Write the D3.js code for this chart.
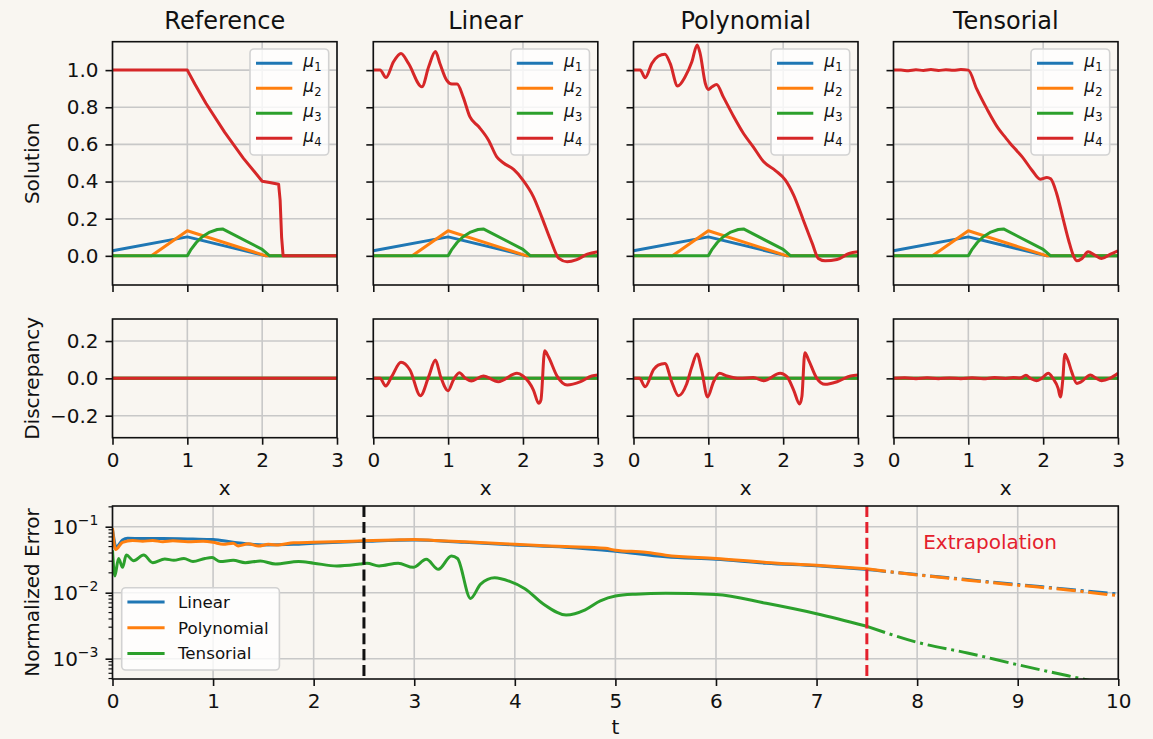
<!DOCTYPE html>
<html>
<head>
<meta charset="utf-8">
<script src="https://cdn.jsdelivr.net/npm/d3@7"></script>
<style>
  body { margin: 0; background: #f9f6f1; }
  text { font-family: "DejaVu Sans", sans-serif; fill: #111; }
</style>
</head>
<body>
<script>
// ---- data ----
var panelTitles = ["Reference", "Linear", "Polynomial", "Tensorial"];
var xTicks = [0, 1, 2, 3];
var solTicks = [0, 0.2, 0.4, 0.6, 0.8, 1.0];
var discTicks = [-0.2, 0, 0.2];
var tTicks = [0, 1, 2, 3, 4, 5, 6, 7, 8, 9, 10];
var errTicks = [1e-1, 1e-2, 1e-3];
var errTickExp = ["\u22121", "\u22122", "\u22123"];
var methodNames = ["Linear", "Polynomial", "Tensorial"];

// mu1..mu3 look the same in all four panels
var mu1 = [[0, 0.027], [1, 0.102], [2.05, 0], [3, 0]];
var mu2 = [[0, 0], [0.52, 0], [1, 0.135], [2.05, 0], [3, 0]];
var mu3 = [[0, 0], [1, 0], [1.05, 0.035], [1.12, 0.072], [1.2, 0.103], [1.3, 0.128], [1.4, 0.142],
           [1.47, 0.145], [2.0, 0.035], [2.1, 0], [3, 0]];

var refMu4 = [[0, 1], [1, 1], [1.1, 0.925], [1.25, 0.82], [1.5, 0.665], [1.75, 0.525], [2.0, 0.402],
              [2.1, 0.395], [2.22, 0.385], [2.24, 0.3], [2.26, 0.1], [2.28, 0], [3, 0]];
var linMu4 = [[0, 1.0], [0.09, 1.0], [0.17, 0.96], [0.27, 1.045], [0.37, 1.09], [0.47, 1.036], [0.65, 0.91],
              [0.74, 1.018], [0.83, 1.10], [0.89, 1.036], [0.98, 0.946], [1.05, 0.925], [1.12, 0.925],
              [1.2, 0.856], [1.29, 0.749], [1.41, 0.695], [1.54, 0.623], [1.65, 0.533], [1.74, 0.5],
              [1.875, 0.465], [2.0, 0.408], [2.14, 0.318], [2.25, 0.21], [2.37, 0.084], [2.48, -0.014],
              [2.59, -0.032], [2.72, -0.02], [2.86, 0.009], [3.0, 0.022]];
var polyMu4 = [[0, 1.0], [0.09, 1.0], [0.156, 0.959], [0.245, 1.036], [0.33, 1.075], [0.42, 1.086], [0.49, 1.036],
               [0.59, 0.914], [0.69, 0.964], [0.78, 1.045], [0.85, 1.135], [0.89, 1.09], [0.96, 0.928],
               [1.0, 0.896], [1.05, 0.91], [1.11, 0.923], [1.2, 0.856], [1.34, 0.749], [1.47, 0.659],
               [1.6, 0.587], [1.74, 0.506], [1.9, 0.458], [2.03, 0.408], [2.14, 0.327], [2.27, 0.192],
               [2.39, 0.066], [2.47, -0.014], [2.56, -0.027], [2.72, -0.02], [2.88, 0.0126], [3.0, 0.0215]];
var tensMu4 = [[0, 1.0], [0.1, 1.0], [0.2, 0.997], [0.3, 1.002], [0.4, 0.998], [0.5, 1.003], [0.6, 0.998],
               [0.7, 1.002], [0.8, 0.999], [0.9, 1.003], [1.0, 1.0], [1.11, 0.9], [1.25, 0.79], [1.4, 0.686],
               [1.5, 0.635], [1.56, 0.605], [1.65, 0.565], [1.72, 0.533], [1.85, 0.461], [1.96, 0.413],
               [2.05, 0.422], [2.1, 0.415], [2.18, 0.336], [2.26, 0.21], [2.34, 0.084], [2.41, -0.005],
               [2.45, -0.027], [2.52, -0.014], [2.6, 0.0215], [2.69, 0.0036], [2.78, -0.014], [2.9, 0.009],
               [3.0, 0.027]];

var zeroDisc = [[0, 0], [3, 0]];
var linDisc = [[0, 0], [0.09, 0], [0.165, -0.041], [0.245, 0.009], [0.37, 0.086], [0.49, 0.045], [0.63, -0.093],
               [0.74, 0.009], [0.83, 0.098], [0.9, 0.009], [1.0, -0.066], [1.07, -0.009], [1.15, 0.03],
               [1.23, 0], [1.31, -0.014], [1.47, 0.0125], [1.67, -0.018], [1.92, 0.027], [2.0, 0.0125],
               [2.14, -0.0625], [2.21, -0.134], [2.24, -0.116], [2.29, 0.148], [2.34, 0.116], [2.46, 0.009],
               [2.59, -0.036], [2.77, -0.018], [2.92, 0.0125], [3.0, 0.018]];
var polyDisc = [[0, 0], [0.08, 0], [0.156, -0.045], [0.27, 0.048], [0.33, 0.071], [0.42, 0.08], [0.51, -0.018],
                [0.6, -0.093], [0.71, -0.03], [0.78, 0.0625], [0.85, 0.13], [0.91, 0.045], [0.99, -0.1],
                [1.07, -0.018], [1.15, 0.027], [1.25, 0.0125], [1.42, 0], [1.6, 0.004], [1.74, -0.0125],
                [1.96, 0.027], [2.05, 0.009], [2.14, -0.0625], [2.22, -0.1375], [2.25, -0.098], [2.29, 0.1375],
                [2.34, 0.098], [2.45, 0], [2.56, -0.032], [2.72, -0.018], [2.9, 0.0125], [3.0, 0.018]];
var tensDisc = [[0, 0], [0.15, 0.003], [0.3, -0.002], [0.45, 0.003], [0.6, -0.002], [0.75, 0.002], [0.9, -0.002],
                [1.05, 0.003], [1.2, -0.002], [1.35, 0.004], [1.5, -0.001], [1.6, 0.004], [1.69, 0.002],
                [1.77, 0.016], [1.83, 0], [1.91, -0.0125], [1.98, 0], [2.07, 0.027], [2.13, 0], [2.2, -0.054],
                [2.23, -0.1], [2.26, -0.018], [2.29, 0.129], [2.33, 0.098], [2.38, 0.036], [2.45, -0.027],
                [2.51, -0.018], [2.63, 0.018], [2.71, 0], [2.78, -0.0125], [2.89, 0], [3.0, 0.027]];

// normalized error vs t (solid part up to 7.5, extrapolation after)
var linErr = [[0, 0.09], [0.04, 0.05], [0.1, 0.063], [0.15, 0.067], [0.3, 0.066], [0.5, 0.066], [0.8, 0.065],
              [1.0, 0.064], [1.2, 0.058], [1.5, 0.053], [1.8, 0.054], [2.0, 0.056], [2.5, 0.06], [3.0, 0.063],
              [3.5, 0.058], [4.0, 0.053], [4.5, 0.049], [5.0, 0.0425], [5.5, 0.035], [6.0, 0.032], [6.5, 0.028],
              [7.0, 0.0255], [7.5, 0.0225]];
var linExt = [[7.5, 0.0225], [8, 0.0188], [8.5, 0.0158], [9, 0.0133], [9.5, 0.0113], [10, 0.0095]];
var polyErr = [[0, 0.095], [0.03, 0.045], [0.1, 0.058], [0.2, 0.062], [0.3, 0.06], [0.4, 0.062], [0.5, 0.059],
               [0.6, 0.061], [0.75, 0.059], [0.9, 0.06], [1.0, 0.058], [1.1, 0.054], [1.2, 0.056], [1.25, 0.051],
               [1.35, 0.055], [1.45, 0.051], [1.55, 0.054], [1.65, 0.053], [1.8, 0.057], [2.0, 0.058],
               [2.2, 0.059], [2.5, 0.061], [2.8, 0.063], [3.0, 0.064], [3.2, 0.062], [3.5, 0.059], [3.8, 0.056],
               [4.0, 0.054], [4.5, 0.05], [4.9, 0.047], [5.0, 0.044], [5.3, 0.041], [5.5, 0.037], [6.0, 0.033],
               [6.5, 0.0288], [7.0, 0.026], [7.5, 0.023]];
var polyExt = [[7.5, 0.023], [8, 0.0186], [8.5, 0.0155], [9, 0.013], [9.5, 0.011], [10, 0.009]];
var tensErr = [[0, 0.044], [0.023, 0.0179], [0.06, 0.033], [0.1, 0.0242], [0.137, 0.0372], [0.21, 0.0305],
               [0.31, 0.0372], [0.4, 0.0285], [0.52, 0.0324], [0.61, 0.031], [0.71, 0.033], [0.8, 0.0296],
               [0.92, 0.033], [0.99, 0.034], [1.07, 0.0296], [1.2, 0.031], [1.32, 0.0285], [1.47, 0.0302],
               [1.62, 0.0272], [1.85, 0.0296], [2.0, 0.028], [2.23, 0.0254], [2.46, 0.0272], [2.53, 0.028],
               [2.65, 0.0254], [2.84, 0.028], [2.99, 0.0242], [3.12, 0.032], [3.24, 0.0226], [3.37, 0.036],
               [3.43, 0.033], [3.56, 0.0082], [3.66, 0.0135], [3.8, 0.0168], [3.95, 0.0148], [4.1, 0.0115],
               [4.28, 0.0068], [4.51, 0.0046], [4.7, 0.0055], [4.85, 0.0075], [5.0, 0.0089], [5.2, 0.0095],
               [5.5, 0.0098], [6.0, 0.0094], [6.5, 0.0069], [7.0, 0.0048], [7.5, 0.0031]];
var tensExt = [[7.5, 0.0031], [8, 0.00177], [8.5, 0.00122], [9, 0.00081], [9.5, 0.00055], [10, 0.00038]];
var trainEnd = 2.5;
var extrapStart = 7.5;

var mu4Sets = [refMu4, linMu4, polyMu4, tensMu4];
var discSets = [zeroDisc, linDisc, polyDisc, tensDisc];
var errSets = [linErr, polyErr, tensErr];
var extSets = [linExt, polyExt, tensExt];

// ---- layout ----
var svgWidth = 1153, svgHeight = 739;
var colors = ["#1f77b4", "#ff7f0e", "#2ca02c", "#d62728"];
var extraColor = "#e4202c";
var bg = "#f9f6f1";
var gridColor = "#c8c8c8";
var panelLeft = [112.5, 373.3, 633.5, 893.5];
var panelW = 224.5;
var topY = 41.7, topH = 243.3;
var midY = 319, midH = 118.7;
var errX = 112.5, errY = 506, errW = 1005.8, errH = 173;

var svg = d3.select("body")
  .append("svg")
  .attr("width", svgWidth)
  .attr("height", svgHeight)
  .style("background", bg);

var defs = svg.append("defs");

var ySol = d3.scaleLinear().domain([-0.157, 1.153]).range([topY + topH, topY]);
var yDisc = d3.scaleLinear().domain([-0.318, 0.318]).range([midY + midH, midY]);

function styleAxis(g) {
  g.select(".domain").remove();
  g.selectAll(".tick line").attr("stroke", "#111").attr("stroke-width", 1.6);
  g.selectAll(".tick text").style("font-size", "20px").attr("fill", "#111");
}

function grid(g, xs, ys, xt, yt) {
  var x0 = xs.range()[0], x1 = xs.range()[1];
  var y0 = ys.range()[0], y1 = ys.range()[1];
  g.selectAll(null).data(xt).join("line")
    .attr("x1", d => xs(d)).attr("x2", d => xs(d))
    .attr("y1", y0).attr("y2", y1)
    .attr("stroke", gridColor).attr("stroke-width", 1.6);
  g.selectAll(null).data(yt).join("line")
    .attr("x1", x0).attr("x2", x1)
    .attr("y1", d => ys(d)).attr("y2", d => ys(d))
    .attr("stroke", gridColor).attr("stroke-width", 1.6);
}

function spines(g, x, y, w, h) {
  g.append("rect")
    .attr("x", x).attr("y", y).attr("width", w).attr("height", h)
    .attr("fill", "none").attr("stroke", "#111").attr("stroke-width", 1.6);
}

function clipFor(id, x, y, w, h) {
  defs.append("clipPath").attr("id", id)
    .append("rect").attr("x", x).attr("y", y).attr("width", w).attr("height", h);
  return "url(#" + id + ")";
}

panelTitles.forEach(function(title, p) {
  var L = panelLeft[p];
  var x = d3.scaleLinear().domain([0, 3]).range([L, L + panelW]);
  var lineSol = d3.line().x(d => x(d[0])).y(d => ySol(d[1]));
  var lineDisc = d3.line().x(d => x(d[0])).y(d => yDisc(d[1]));
  var smooth = p === 0 ? d3.curveLinear : d3.curveMonotoneX;

  // ---- solution row ----
  var gTop = svg.append("g");
  grid(gTop, x, ySol, xTicks, solTicks);
  var plotTop = gTop.append("g").attr("clip-path", clipFor("ct" + p, L, topY, panelW, topH));
  [mu1, mu2, mu3].forEach(function(s, i) {
    plotTop.append("path")
      .attr("d", lineSol(s))
      .attr("fill", "none").attr("stroke", colors[i]).attr("stroke-width", 3)
      .attr("stroke-linejoin", "round");
  });
  plotTop.append("path")
    .attr("d", lineSol.curve(smooth)(mu4Sets[p]))
    .attr("fill", "none").attr("stroke", colors[3]).attr("stroke-width", 3)
    .attr("stroke-linejoin", "round");

  gTop.append("g")
    .attr("transform", "translate(0," + (topY + topH) + ")")
    .call(d3.axisBottom(x).tickValues(xTicks).tickSize(7).tickFormat(""))
    .call(styleAxis);
  gTop.append("g")
    .attr("transform", "translate(" + L + ",0)")
    .call(d3.axisLeft(ySol).tickValues(solTicks).tickSize(7).tickPadding(7)
      .tickFormat(p === 0 ? d3.format(".1f") : ""))
    .call(styleAxis);
  spines(gTop, L, topY, panelW, topH);

  gTop.append("text")
    .attr("x", L + panelW / 2).attr("y", 29.3)
    .attr("text-anchor", "middle")
    .style("font-size", "24px")
    .text(title);

  // legend
  var leg = gTop.append("g");
  leg.append("rect")
    .attr("x", L + 137.5).attr("y", topY + 7.3)
    .attr("width", 78.7).attr("height", 106).attr("rx", 4)
    .attr("fill", "#ffffff").attr("fill-opacity", 0.8)
    .attr("stroke", "#d2d2d2").attr("stroke-width", 1.6);
  colors.forEach(function(c, i) {
    var cy = topY + 21.6 + i * 25;
    leg.append("line")
      .attr("x1", L + 143.5).attr("x2", L + 179.8)
      .attr("y1", cy).attr("y2", cy)
      .attr("stroke", c).attr("stroke-width", 3);
    var t = leg.append("text")
      .attr("x", L + 190.8).attr("y", cy + 4)
      .style("font-size", "17px");
    t.append("tspan").style("font-style", "italic").text("\u03bc");
    t.append("tspan").attr("dy", 3.4).style("font-size", "11.5px").text(i + 1);
  });

  // ---- discrepancy row ----
  var gMid = svg.append("g");
  grid(gMid, x, yDisc, xTicks, discTicks);
  var plotMid = gMid.append("g").attr("clip-path", clipFor("cm" + p, L, midY, panelW, midH));
  [0, 1, 2].forEach(function(i) {
    plotMid.append("path")
      .attr("d", lineDisc(zeroDisc))
      .attr("fill", "none").attr("stroke", colors[i]).attr("stroke-width", 3);
  });
  plotMid.append("path")
    .attr("d", lineDisc.curve(smooth)(discSets[p]))
    .attr("fill", "none").attr("stroke", colors[3]).attr("stroke-width", 3)
    .attr("stroke-linejoin", "round");

  gMid.append("g")
    .attr("transform", "translate(0," + (midY + midH) + ")")
    .call(d3.axisBottom(x).tickValues(xTicks).tickSize(7).tickPadding(8).tickFormat(d3.format("d")))
    .call(styleAxis);
  gMid.append("g")
    .attr("transform", "translate(" + L + ",0)")
    .call(d3.axisLeft(yDisc).tickValues(discTicks).tickSize(7).tickPadding(7)
      .tickFormat(p === 0 ? d3.format(".1f") : ""))
    .call(styleAxis);
  spines(gMid, L, midY, panelW, midH);

  gMid.append("text")
    .attr("x", L + panelW / 2).attr("y", 494.5)
    .attr("text-anchor", "middle")
    .style("font-size", "20px")
    .text("x");
});

// y labels for the first column
[["Solution", topY + topH / 2], ["Discrepancy", midY + midH / 2], ["Normalized Error", errY + errH / 2]]
  .forEach(function(d) {
    svg.append("text")
      .attr("transform", "translate(38.5," + d[1] + ") rotate(-90)")
      .attr("text-anchor", "middle")
      .style("font-size", "20px")
      .text(d[0]);
  });

// ---- normalized error panel ----
var xT = d3.scaleLinear().domain([0, 10]).range([errX, errX + errW]);
var yErr = d3.scaleLog().domain([4.92e-4, 0.206]).range([errY + errH, errY]);
var lineErr = d3.line().x(d => xT(d[0])).y(d => yErr(d[1])).curve(d3.curveMonotoneX);

var gBot = svg.append("g");
grid(gBot, xT, yErr, tTicks, errTicks);
var plotBot = gBot.append("g").attr("clip-path", clipFor("cb", errX, errY, errW, errH));

errSets.forEach(function(s, i) {
  plotBot.append("path")
    .attr("d", lineErr(s))
    .attr("fill", "none").attr("stroke", colors[i]).attr("stroke-width", 3)
    .attr("stroke-linejoin", "round");
  plotBot.append("path")
    .attr("d", lineErr(extSets[i]))
    .attr("fill", "none").attr("stroke", colors[i]).attr("stroke-width", 3)
    .attr("stroke-dasharray", "19.2,4.8,3,4.8");
});

[[trainEnd, "#111"], [extrapStart, extraColor]].forEach(function(d) {
  plotBot.append("line")
    .attr("x1", xT(d[0])).attr("x2", xT(d[0]))
    .attr("y1", errY).attr("y2", errY + errH)
    .attr("stroke", d[1]).attr("stroke-width", 3)
    .attr("stroke-dasharray", "11.1,4.8");
});

gBot.append("text")
  .attr("x", xT(8.06)).attr("y", 549)
  .style("fill", extraColor)
  .style("font-size", "20px")
  .text("Extrapolation");

gBot.append("g")
  .attr("transform", "translate(0," + (errY + errH) + ")")
  .call(d3.axisBottom(xT).tickValues(tTicks).tickSize(7).tickPadding(8).tickFormat(d3.format("d")))
  .call(styleAxis);

// minor log ticks
var minor = [];
[1e-4, 1e-3, 1e-2, 1e-1].forEach(function(dec) {
  for (var k = 2; k <= 9; k++) minor.push(dec * k);
});
minor = minor.filter(v => v >= yErr.domain()[0] && v <= yErr.domain()[1]);
gBot.selectAll(null).data(minor).join("line")
  .attr("x1", errX - 4).attr("x2", errX)
  .attr("y1", d => yErr(d)).attr("y2", d => yErr(d))
  .attr("stroke", "#111").attr("stroke-width", 1.2);

gBot.append("g")
  .attr("transform", "translate(" + errX + ",0)")
  .call(d3.axisLeft(yErr).tickValues(errTicks).tickSize(7).tickFormat(""))
  .call(styleAxis);

errTicks.forEach(function(v, i) {
  var t = gBot.append("text")
    .attr("x", errX - 14).attr("y", yErr(v) + 7.2)
    .attr("text-anchor", "end")
    .style("font-size", "20px");
  t.append("tspan").text("10");
  t.append("tspan").attr("dy", -8.5).style("font-size", "14px").text(errTickExp[i]);
});

spines(gBot, errX, errY, errW, errH);

gBot.append("text")
  .attr("x", xT(5)).attr("y", 733.5)
  .attr("text-anchor", "middle")
  .style("font-size", "20px")
  .text("t");

// legend
var legB = gBot.append("g");
legB.append("rect")
  .attr("x", 121.7).attr("y", 587.7)
  .attr("width", 157.7).attr("height", 82.3).attr("rx", 4)
  .attr("fill", "#ffffff").attr("fill-opacity", 0.8)
  .attr("stroke", "#d2d2d2").attr("stroke-width", 1.6);
methodNames.forEach(function(name, i) {
  var cy = 602 + i * 25.7;
  legB.append("line")
    .attr("x1", 127.4).attr("x2", 164.6)
    .attr("y1", cy).attr("y2", cy)
    .attr("stroke", colors[i]).attr("stroke-width", 3);
  legB.append("text")
    .attr("x", 178).attr("y", cy + 6)
    .style("font-size", "16.7px")
    .text(name);
});
</script>
</body>
</html>
